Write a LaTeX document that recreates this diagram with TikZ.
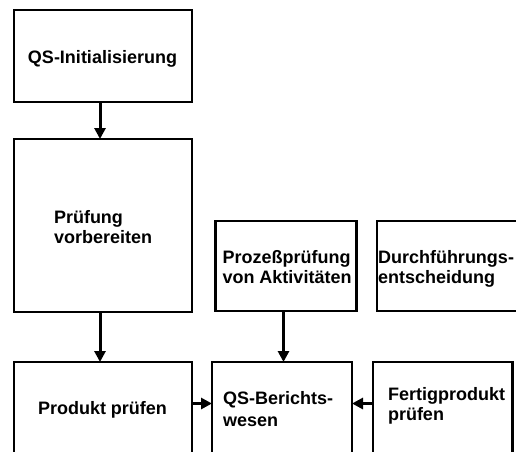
\documentclass[tikz,border=0pt]{standalone}
\usepackage{fontspec}
\setmainfont{Liberation Sans}
\usetikzlibrary{arrows.meta}
\tikzset{
  box/.style={draw, line width=2.6pt, outer sep=0pt, inner sep=0pt, anchor=north west},
  label/.style={inner sep=0pt, outer sep=0pt, align=left,
    font=\bfseries\fontsize{18}{20}\selectfont},
  arr/.style={line width=3pt, -{Triangle[length=11pt,width=11pt]}},
}
\begin{document}
\begin{tikzpicture}[x=1pt,y=-1pt]
  \useasboundingbox (0,0) rectangle (516,451);
  \clip (0,0) rectangle (516,451);
  % process boxes
  \node[box, minimum width=178pt, minimum height=92pt]  (b1) at (14,10) {};
  \node[box, minimum width=178pt, minimum height=173pt] (b2) at (14,139) {};
  \node[box, minimum width=141pt, minimum height=90pt]  (b3) at (215.5,221) {};
  \node[box, minimum width=160pt, minimum height=90pt]  (b4) at (377,221) {};
  \node[box, minimum width=178pt, minimum height=120pt] (b5) at (14,362) {};
  \node[box, minimum width=140pt, minimum height=120pt] (b6) at (212,362) {};
  \node[box, minimum width=139.5pt, minimum height=120pt] (b7) at (373,362) {};
  % box texts (base anchor sits on the last line)
  \node[label, anchor=base] (t1) at (102.5,63.5) {QS-Initialisierung};
  \node[label, anchor=base west] (t2) at (54,243) {Prüfung\\vorbereiten};
  \node[label, anchor=base west] (t3) at (222.5,283.5) {Prozeßprüfung\\von Aktivitäten};
  \node[label, anchor=base west] (t4) at (378,283.5) {Durchführungs-\\entscheidung};
  \node[label, anchor=base] (t5) at (102.5,414) {Produkt prüfen};
  \node[label, anchor=base west, font=\bfseries\fontsize{18}{21.5}\selectfont] (t6) at (223,426) {QS-Berichts-\\wesen};
  \node[label, anchor=base west] (t7) at (388,420.5) {Fertigprodukt\\prüfen};
  % connectors
  \draw[arr] ([xshift=-3pt]b1.south) -- ([xshift=-3pt]b2.north);
  \draw[arr] ([xshift=-3pt]b2.south) -- ([xshift=-3pt]b5.north);
  \draw[arr] ([xshift=1.5pt]b6.north |- b3.south) -- ([xshift=1.5pt]b6.north);
  \draw[arr] ([yshift=-41.5pt]b5.north east) -- ([yshift=-41.5pt]b6.north west);
  \draw[arr] ([yshift=-41.5pt]b7.north west) -- ([yshift=-41.5pt]b6.north east);
\end{tikzpicture}
\end{document}
